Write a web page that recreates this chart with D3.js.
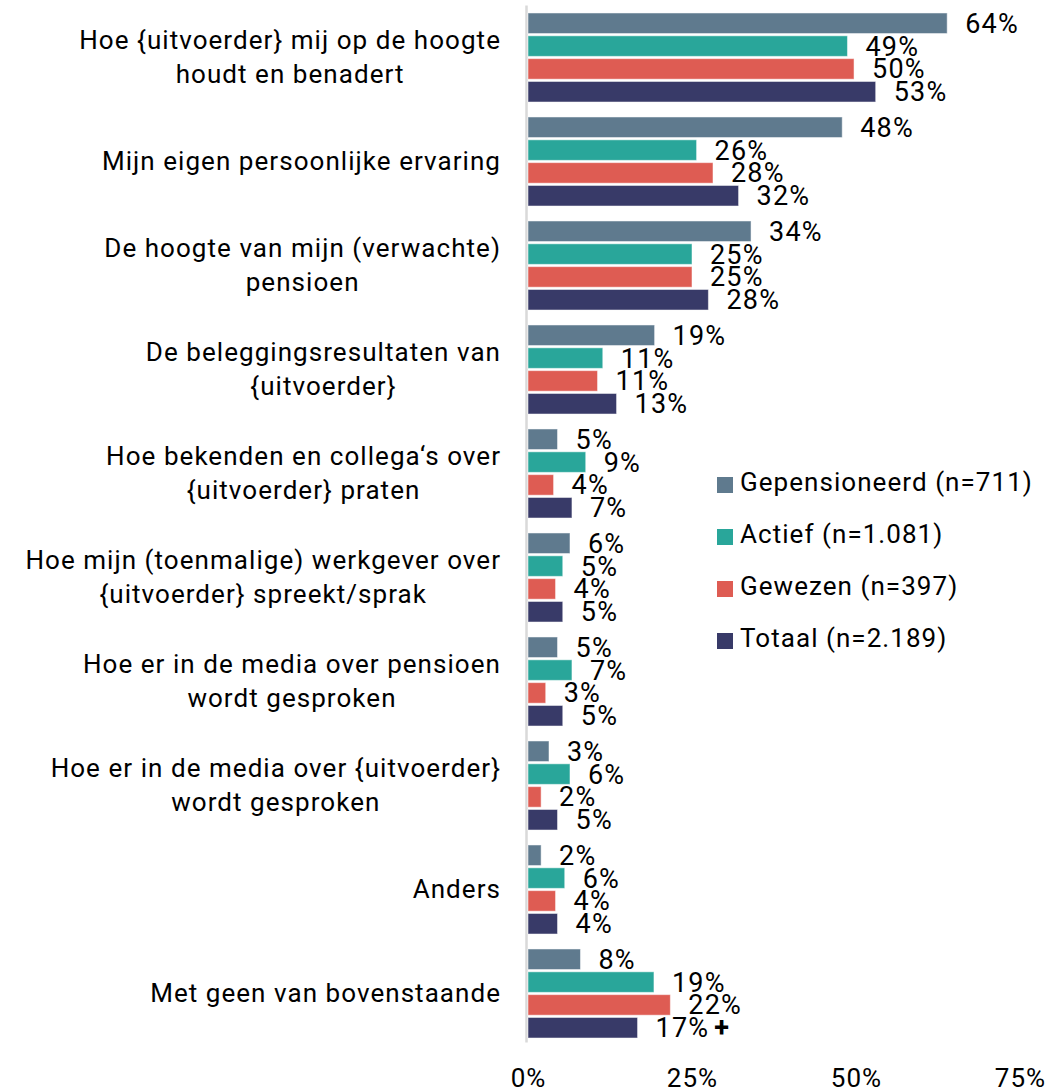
<!DOCTYPE html>
<html>
<head>
<meta charset="utf-8">
<script src="https://cdn.jsdelivr.net/npm/d3@7"></script>
<style>
  body { margin: 0; background: #fff; }
  text { font-family: Roboto, sans-serif; fill: #000; }
</style>
</head>
<body>
<svg id="chart"></svg>
<script>
// categories (each entry = lines of the label)
var categories = [
    ["Hoe {uitvoerder} mij op de hoogte", "houdt en benadert"],
    ["Mijn eigen persoonlijke ervaring"],
    ["De hoogte van mijn (verwachte)", "pensioen"],
    ["De beleggingsresultaten van", "{uitvoerder}"],
    ["Hoe bekenden en collega\u2018s over", "{uitvoerder} praten"],
    ["Hoe mijn (toenmalige) werkgever over", "{uitvoerder} spreekt/sprak"],
    ["Hoe er in de media over pensioen", "wordt gesproken"],
    ["Hoe er in de media over {uitvoerder}", "wordt gesproken"],
    ["Anders"],
    ["Met geen van bovenstaande"]
]

var seriesNames = ["Gepensioneerd (n=711)", "Actief (n=1.081)", "Gewezen (n=397)", "Totaal (n=2.189)"]
var seriesColors = ["#5f7a8e", "#29a69a", "#de5c53", "#383a68"]

// bar lengths as drawn
var gepensioneerd = [63.9, 47.9, 34.0, 19.3, 4.5, 6.4, 4.5, 3.2, 2.0, 8.0]
var actief        = [48.7, 25.7, 25.0, 11.4, 8.8, 5.3, 6.7, 6.4, 5.6, 19.2]
var gewezen       = [49.7, 28.2, 25.0, 10.6, 3.9, 4.2, 2.7, 2.0, 4.2, 21.7]
var totaal        = [53.0, 32.1, 27.5, 13.5, 6.7, 5.3, 5.3, 4.5, 4.5, 16.7]

// printed labels
var gepensioneerdLabels = [64, 48, 34, 19, 5, 6, 5, 3, 2, 8]
var actiefLabels        = [49, 26, 25, 11, 9, 5, 7, 6, 6, 19]
var gewezenLabels       = [50, 28, 25, 11, 4, 4, 3, 2, 4, 22]
var totaalLabels        = [53, 32, 28, 13, 7, 5, 5, 5, 4, 17]

// significance markers: [category index, series index, text]
var markers = [[9, 3, "+"]]

var xTicks = [0, 25, 50, 75]

var series = [gepensioneerd, actief, gewezen, totaal]
var labels = [gepensioneerdLabels, actiefLabels, gewezenLabels, totaalLabels]

var dimensions = {
    width: 1058,
    height: 1090,
    plotLeft: 528,
    plotRight: 1020,
    top: 5.5,
    bottom: 1045.5
}

var fontSize = 26
var valueFontSize = 27

var svg = d3.select("#chart")
    .attr("width", dimensions.width)
    .attr("height", dimensions.height)

var xScale = d3.scaleLinear()
    .domain([0, 75])
    .range([dimensions.plotLeft, dimensions.plotRight])

var yScale = d3.scaleBand()
    .domain(d3.range(categories.length))
    .range([dimensions.top, dimensions.bottom])
    .paddingInner(0.144)
    .paddingOuter(0.072)

var subScale = d3.scaleBand()
    .domain(d3.range(series.length))
    .range([0, yScale.bandwidth()])
    .paddingInner(0.1)

// vertical axis line
svg.append("line")
    .attr("x1", dimensions.plotLeft - 1.5)
    .attr("x2", dimensions.plotLeft - 1.5)
    .attr("y1", dimensions.top)
    .attr("y2", dimensions.bottom - 3)
    .attr("stroke", "#d9d9d9")
    .attr("stroke-width", 2.5)

var groups = svg.selectAll("g.group")
    .data(categories)
    .enter()
    .append("g")
    .attr("class", "group")
    .attr("transform", function (d, i) { return "translate(0," + yScale(i) + ")" })

series.forEach(function (values, s) {
    groups.append("rect")
        .attr("x", xScale(0))
        .attr("y", subScale(s))
        .attr("width", function (d, i) { return xScale(values[i]) - xScale(0) })
        .attr("height", subScale.bandwidth())
        .attr("fill", seriesColors[s])
        .attr("stroke", "#ffffff")
        .attr("stroke-opacity", 0.5)
        .attr("stroke-width", 1)

    var t = groups.append("text")
        .attr("x", function (d, i) { return xScale(values[i]) + 18 })
        .attr("y", subScale(s) + subScale.bandwidth() / 2)
        .attr("dy", "0.35em")
        .style("font-size", valueFontSize + "px")
        .style("letter-spacing", "1.2px")
        .text(function (d, i) { return labels[s][i] + "%" })

    t.each(function (d, i) {
        var self = d3.select(this)
        markers.forEach(function (m) {
            if (m[0] === i && m[1] === s) {
                self.append("tspan")
                    .attr("dx", 5)
                    .style("font-weight", "bold")
                    .text(m[2])
            }
        })
    })
})

// category labels, lines centred on each other, block right-aligned
var lineHeight = 34
var labelRight = 501
groups.each(function (lines, i) {
    var g = d3.select(this)
    var center = yScale.bandwidth() / 2
    var texts = lines.map(function (line, k) {
        return g.append("text")
            .attr("y", center + 8.5 + (k - (lines.length - 1) / 2) * lineHeight)
            .attr("text-anchor", "middle")
            .style("font-size", fontSize + "px")
            .style("letter-spacing", "1.05px")
            .text(line)
    })
    var maxW = d3.max(texts, function (t) { return t.node().getComputedTextLength() })
    texts.forEach(function (t) {
        t.attr("x", labelRight - maxW / 2)
    })
})

// x axis
var xAxis = d3.axisBottom(xScale)
    .tickValues(xTicks)
    .tickSize(0)
    .tickPadding(3)
    .tickFormat(function (d) { return d + "%" })

var axisG = svg.append("g")
    .attr("transform", "translate(0,1066)")
    .call(xAxis)
axisG.select(".domain").remove()
axisG.selectAll("text")
    .style("font-size", fontSize + "px")
    .style("font-family", "Roboto, sans-serif")
    .style("letter-spacing", "1.05px")
    .attr("fill", "#000")

// legend
var legend = svg.selectAll("g.legend")
    .data(seriesNames)
    .enter()
    .append("g")
    .attr("class", "legend")
    .attr("transform", function (d, i) { return "translate(717," + (491 + i * 52) + ")" })

legend.append("rect")
    .attr("x", 0)
    .attr("y", -14)
    .attr("width", 16)
    .attr("height", 16)
    .attr("fill", function (d, i) { return seriesColors[i] })

legend.append("text")
    .attr("x", 23)
    .attr("y", 0)
    .style("font-size", fontSize + "px")
    .style("letter-spacing", "1.05px")
    .text(function (d) { return d })
</script>
</body>
</html>
